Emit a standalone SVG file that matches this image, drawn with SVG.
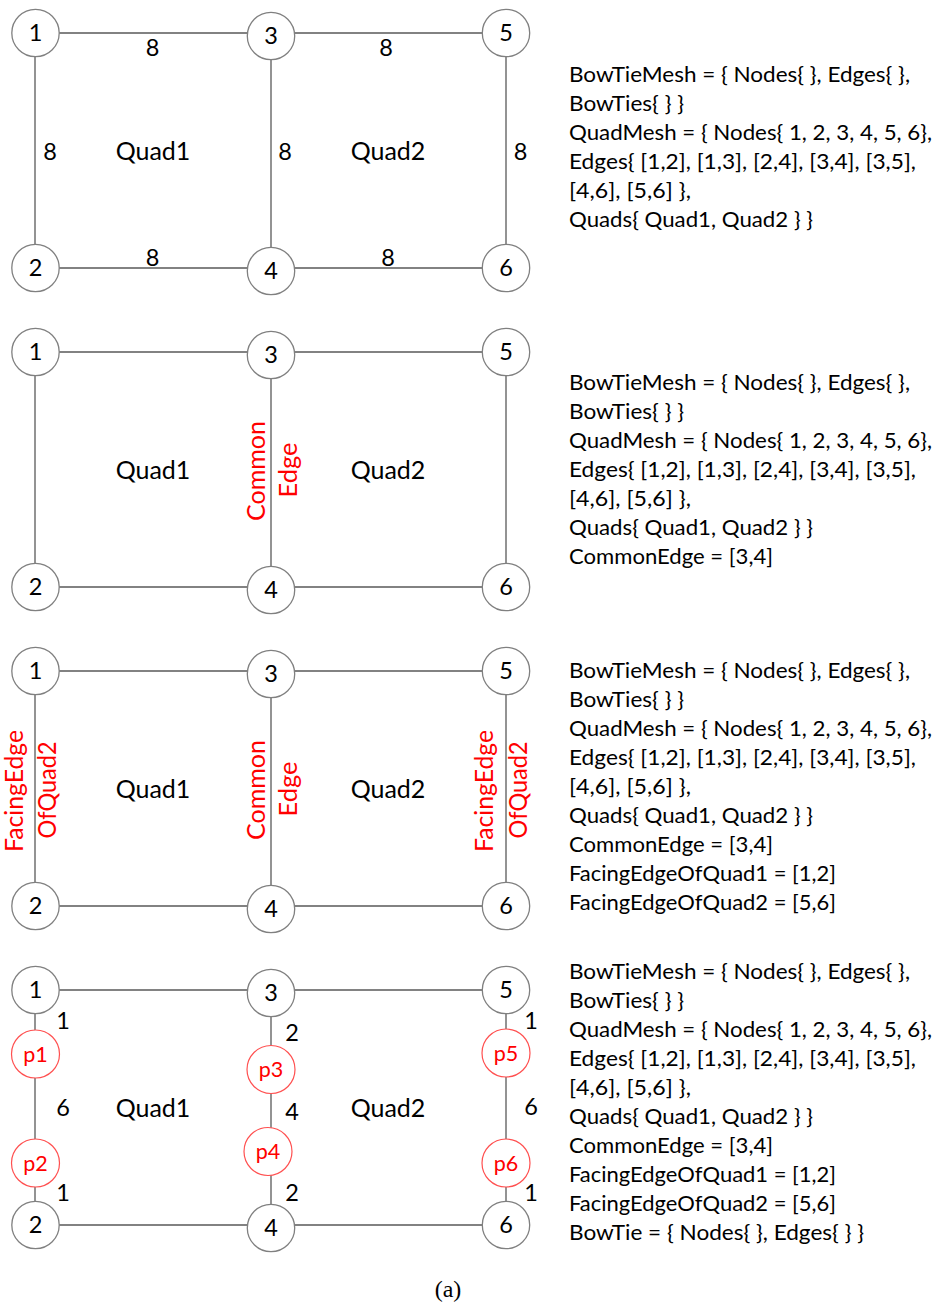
<svg xmlns="http://www.w3.org/2000/svg" width="938" height="1303" viewBox="0 0 938 1303">
<style>
.bg{fill:#ffffff}
.edge{stroke:#595959;stroke-width:1.3;fill:none}
.node{fill:#ffffff;stroke:#808080;stroke-width:1.3}
.pnode{fill:#ffffff;stroke:#ff5050;stroke-width:1.2}
.num{font-family:Lato,"Open Sans",sans-serif;font-size:23.5px;fill:#000;text-anchor:middle}
.pl{font-family:Lato,"Open Sans",sans-serif;font-size:21.5px;fill:#ff0000;text-anchor:middle}
.quad{font-family:Lato,"Open Sans",sans-serif;font-size:25px;fill:#000;text-anchor:middle}
.red{font-family:Lato,"Open Sans",sans-serif;font-size:25px;fill:#ff0000}
.desc{font-family:Lato,"Open Sans",sans-serif;font-size:21.5px;fill:#000}
.cap{font-family:"Liberation Serif",serif;font-size:24px;fill:#000;text-anchor:middle}
</style>
<rect class="bg" x="0" y="0" width="938" height="1303"/>

<!-- Panel 1 -->
<g id="panel1">
  <g id="panel1-connectors">
    <line class="edge" x1="35" y1="33" x2="506" y2="33"/>
    <line class="edge" x1="35" y1="268" x2="506" y2="268"/>
    <line class="edge" x1="35" y1="33" x2="35" y2="268"/>
    <line class="edge" x1="271" y1="36" x2="271" y2="271"/>
    <line class="edge" x1="506" y1="33" x2="506" y2="268"/>
    <text class="num" x="152.5" y="55.5">8</text>
    <text class="num" x="386" y="55.5">8</text>
    <text class="num" x="50" y="159.5">8</text>
    <text class="num" x="285" y="159.5">8</text>
    <text class="num" x="520.5" y="159.5">8</text>
    <text class="num" x="152.5" y="265.5">8</text>
    <text class="num" x="388" y="265.5">8</text>
  </g>
  <g id="panel1-n1"><circle class="node" cx="35.5" cy="33" r="23.7"/><text class="num" x="35.5" y="41.4">1</text></g>
  <g id="panel1-n3"><circle class="node" cx="271" cy="36" r="23.7"/><text class="num" x="271" y="44.4">3</text></g>
  <g id="panel1-n5"><circle class="node" cx="506" cy="33" r="23.7"/><text class="num" x="506" y="41.4">5</text></g>
  <g id="panel1-n2"><circle class="node" cx="35.5" cy="268" r="23.7"/><text class="num" x="35.5" y="276.4">2</text></g>
  <g id="panel1-n4"><circle class="node" cx="271" cy="271" r="23.7"/><text class="num" x="271" y="279.4">4</text></g>
  <g id="panel1-n6"><circle class="node" cx="506" cy="268" r="23.7"/><text class="num" x="506" y="276.4">6</text></g>
  <g id="panel1-quad1"><text class="quad" x="153" y="159.5">Quad1</text></g>
  <g id="panel1-quad2"><text class="quad" x="388" y="159.5">Quad2</text></g>
  <g id="panel1-text">
    <text class="desc" x="569" y="82" textLength="341" lengthAdjust="spacingAndGlyphs">BowTieMesh = { Nodes{ }, Edges{ },</text>
    <text class="desc" x="569" y="111" textLength="115" lengthAdjust="spacingAndGlyphs">BowTies{ } }</text>
    <text class="desc" x="569" y="140" textLength="363" lengthAdjust="spacingAndGlyphs">QuadMesh = { Nodes{ 1, 2, 3, 4, 5, 6},</text>
    <text class="desc" x="569" y="169" textLength="347" lengthAdjust="spacingAndGlyphs">Edges{ [1,2], [1,3], [2,4], [3,4], [3,5],</text>
    <text class="desc" x="569" y="198" textLength="122" lengthAdjust="spacingAndGlyphs">[4,6], [5,6] },</text>
    <text class="desc" x="569" y="227" textLength="244" lengthAdjust="spacingAndGlyphs">Quads{ Quad1, Quad2 } }</text>
  </g>
</g>

<!-- Panel 2 -->
<g id="panel2">
  <g id="panel2-connectors" transform="translate(0,319)">
    <line class="edge" x1="35" y1="33" x2="506" y2="33"/>
    <line class="edge" x1="35" y1="268" x2="506" y2="268"/>
    <line class="edge" x1="35" y1="33" x2="35" y2="268"/>
    <line class="edge" x1="271" y1="36" x2="271" y2="271"/>
    <line class="edge" x1="506" y1="33" x2="506" y2="268"/>
  </g>
  <g transform="translate(0,319)">
    <g id="panel2-n1"><circle class="node" cx="35.5" cy="33" r="23.7"/><text class="num" x="35.5" y="41.4">1</text></g>
    <g id="panel2-n3"><circle class="node" cx="271" cy="36" r="23.7"/><text class="num" x="271" y="44.4">3</text></g>
    <g id="panel2-n5"><circle class="node" cx="506" cy="33" r="23.7"/><text class="num" x="506" y="41.4">5</text></g>
    <g id="panel2-n2"><circle class="node" cx="35.5" cy="268" r="23.7"/><text class="num" x="35.5" y="276.4">2</text></g>
    <g id="panel2-n4"><circle class="node" cx="271" cy="271" r="23.7"/><text class="num" x="271" y="279.4">4</text></g>
    <g id="panel2-n6"><circle class="node" cx="506" cy="268" r="23.7"/><text class="num" x="506" y="276.4">6</text></g>
    <g id="panel2-quad1"><text class="quad" x="153" y="159.5">Quad1</text></g>
    <g id="panel2-quad2"><text class="quad" x="388" y="159.5">Quad2</text></g>
  </g>
  <g id="panel2-common">
    <text class="red" transform="translate(265,471) rotate(-90)" x="-50" y="0" textLength="100" lengthAdjust="spacingAndGlyphs">Common</text>
    <text class="red" transform="translate(297,470) rotate(-90)" x="-27.5" y="0" textLength="55" lengthAdjust="spacingAndGlyphs">Edge</text>
  </g>
  <g id="panel2-text">
    <text class="desc" x="569" y="390" textLength="341" lengthAdjust="spacingAndGlyphs">BowTieMesh = { Nodes{ }, Edges{ },</text>
    <text class="desc" x="569" y="419" textLength="115" lengthAdjust="spacingAndGlyphs">BowTies{ } }</text>
    <text class="desc" x="569" y="448" textLength="363" lengthAdjust="spacingAndGlyphs">QuadMesh = { Nodes{ 1, 2, 3, 4, 5, 6},</text>
    <text class="desc" x="569" y="477" textLength="347" lengthAdjust="spacingAndGlyphs">Edges{ [1,2], [1,3], [2,4], [3,4], [3,5],</text>
    <text class="desc" x="569" y="506" textLength="122" lengthAdjust="spacingAndGlyphs">[4,6], [5,6] },</text>
    <text class="desc" x="569" y="535" textLength="244" lengthAdjust="spacingAndGlyphs">Quads{ Quad1, Quad2 } }</text>
    <text class="desc" x="569" y="564" textLength="204" lengthAdjust="spacingAndGlyphs">CommonEdge = [3,4]</text>
  </g>
</g>

<!-- Panel 3 -->
<g id="panel3">
  <g id="panel3-connectors" transform="translate(0,638)">
    <line class="edge" x1="35" y1="33" x2="506" y2="33"/>
    <line class="edge" x1="35" y1="268" x2="506" y2="268"/>
    <line class="edge" x1="35" y1="33" x2="35" y2="268"/>
    <line class="edge" x1="271" y1="36" x2="271" y2="271"/>
    <line class="edge" x1="506" y1="33" x2="506" y2="268"/>
  </g>
  <g transform="translate(0,638)">
    <g id="panel3-n1"><circle class="node" cx="35.5" cy="33" r="23.7"/><text class="num" x="35.5" y="41.4">1</text></g>
    <g id="panel3-n3"><circle class="node" cx="271" cy="36" r="23.7"/><text class="num" x="271" y="44.4">3</text></g>
    <g id="panel3-n5"><circle class="node" cx="506" cy="33" r="23.7"/><text class="num" x="506" y="41.4">5</text></g>
    <g id="panel3-n2"><circle class="node" cx="35.5" cy="268" r="23.7"/><text class="num" x="35.5" y="276.4">2</text></g>
    <g id="panel3-n4"><circle class="node" cx="271" cy="271" r="23.7"/><text class="num" x="271" y="279.4">4</text></g>
    <g id="panel3-n6"><circle class="node" cx="506" cy="268" r="23.7"/><text class="num" x="506" y="276.4">6</text></g>
    <g id="panel3-quad1"><text class="quad" x="153" y="159.5">Quad1</text></g>
    <g id="panel3-quad2"><text class="quad" x="388" y="159.5">Quad2</text></g>
  </g>
  <g id="panel3-labels">
    <text class="red" transform="translate(23,791) rotate(-90)" x="-61" y="0" textLength="122" lengthAdjust="spacingAndGlyphs">FacingEdge</text>
    <text class="red" transform="translate(56,790) rotate(-90)" x="-48.5" y="0" textLength="97" lengthAdjust="spacingAndGlyphs">OfQuad2</text>
    <text class="red" transform="translate(265,790) rotate(-90)" x="-50" y="0" textLength="100" lengthAdjust="spacingAndGlyphs">Common</text>
    <text class="red" transform="translate(297,789) rotate(-90)" x="-27.5" y="0" textLength="55" lengthAdjust="spacingAndGlyphs">Edge</text>
    <text class="red" transform="translate(493,791) rotate(-90)" x="-61" y="0" textLength="122" lengthAdjust="spacingAndGlyphs">FacingEdge</text>
    <text class="red" transform="translate(527,790) rotate(-90)" x="-48.5" y="0" textLength="97" lengthAdjust="spacingAndGlyphs">OfQuad2</text>
  </g>
  <g id="panel3-text">
    <text class="desc" x="569" y="678" textLength="341" lengthAdjust="spacingAndGlyphs">BowTieMesh = { Nodes{ }, Edges{ },</text>
    <text class="desc" x="569" y="707" textLength="115" lengthAdjust="spacingAndGlyphs">BowTies{ } }</text>
    <text class="desc" x="569" y="736" textLength="363" lengthAdjust="spacingAndGlyphs">QuadMesh = { Nodes{ 1, 2, 3, 4, 5, 6},</text>
    <text class="desc" x="569" y="765" textLength="347" lengthAdjust="spacingAndGlyphs">Edges{ [1,2], [1,3], [2,4], [3,4], [3,5],</text>
    <text class="desc" x="569" y="794" textLength="122" lengthAdjust="spacingAndGlyphs">[4,6], [5,6] },</text>
    <text class="desc" x="569" y="823" textLength="244" lengthAdjust="spacingAndGlyphs">Quads{ Quad1, Quad2 } }</text>
    <text class="desc" x="569" y="852" textLength="204" lengthAdjust="spacingAndGlyphs">CommonEdge = [3,4]</text>
    <text class="desc" x="569" y="881" textLength="267" lengthAdjust="spacingAndGlyphs">FacingEdgeOfQuad1 = [1,2]</text>
    <text class="desc" x="569" y="910" textLength="267" lengthAdjust="spacingAndGlyphs">FacingEdgeOfQuad2 = [5,6]</text>
  </g>
</g>

<!-- Panel 4 -->
<g id="panel4">
  <g id="panel4-connectors" transform="translate(0,957)">
    <line class="edge" x1="35" y1="33" x2="506" y2="33"/>
    <line class="edge" x1="35" y1="268" x2="506" y2="268"/>
    <line class="edge" x1="35" y1="33" x2="35" y2="268"/>
    <line class="edge" x1="271" y1="36" x2="271" y2="271"/>
    <line class="edge" x1="506" y1="33" x2="506" y2="268"/>
    <text class="num" x="63" y="72.4">1</text>
    <text class="num" x="63" y="159.4">6</text>
    <text class="num" x="63" y="244.4">1</text>
    <text class="num" x="292" y="84.4">2</text>
    <text class="num" x="292" y="163.4">4</text>
    <text class="num" x="292" y="244.4">2</text>
    <text class="num" x="531" y="72.4">1</text>
    <text class="num" x="531" y="158.4">6</text>
    <text class="num" x="531" y="244.4">1</text>
  </g>
  <g transform="translate(0,957)">
    <g id="panel4-n1"><circle class="node" cx="35.5" cy="33" r="23.7"/><text class="num" x="35.5" y="41.4">1</text></g>
    <g id="panel4-n3"><circle class="node" cx="271" cy="36" r="23.7"/><text class="num" x="271" y="44.4">3</text></g>
    <g id="panel4-n5"><circle class="node" cx="506" cy="33" r="23.7"/><text class="num" x="506" y="41.4">5</text></g>
    <g id="panel4-n2"><circle class="node" cx="35.5" cy="268" r="23.7"/><text class="num" x="35.5" y="276.4">2</text></g>
    <g id="panel4-n4"><circle class="node" cx="271" cy="271" r="23.7"/><text class="num" x="271" y="279.4">4</text></g>
    <g id="panel4-n6"><circle class="node" cx="506" cy="268" r="23.7"/><text class="num" x="506" y="276.4">6</text></g>
    <g id="panel4-p1"><circle class="pnode" cx="35.5" cy="97" r="24"/><text class="pl" x="35.5" y="104.5">p1</text></g>
    <g id="panel4-p2"><circle class="pnode" cx="35.5" cy="206" r="24"/><text class="pl" x="35.5" y="213.5">p2</text></g>
    <g id="panel4-p3"><circle class="pnode" cx="271" cy="112.5" r="24"/><text class="pl" x="271" y="120">p3</text></g>
    <g id="panel4-p4"><circle class="pnode" cx="268" cy="194.5" r="24"/><text class="pl" x="268" y="202">p4</text></g>
    <g id="panel4-p5"><circle class="pnode" cx="506" cy="96" r="24"/><text class="pl" x="506" y="103.5">p5</text></g>
    <g id="panel4-p6"><circle class="pnode" cx="506" cy="206" r="24"/><text class="pl" x="506" y="213.5">p6</text></g>
    <g id="panel4-quad1"><text class="quad" x="153" y="159.5">Quad1</text></g>
    <g id="panel4-quad2"><text class="quad" x="388" y="159.5">Quad2</text></g>
  </g>
  <g id="panel4-text">
    <text class="desc" x="569" y="979" textLength="341" lengthAdjust="spacingAndGlyphs">BowTieMesh = { Nodes{ }, Edges{ },</text>
    <text class="desc" x="569" y="1008" textLength="115" lengthAdjust="spacingAndGlyphs">BowTies{ } }</text>
    <text class="desc" x="569" y="1037" textLength="363" lengthAdjust="spacingAndGlyphs">QuadMesh = { Nodes{ 1, 2, 3, 4, 5, 6},</text>
    <text class="desc" x="569" y="1066" textLength="347" lengthAdjust="spacingAndGlyphs">Edges{ [1,2], [1,3], [2,4], [3,4], [3,5],</text>
    <text class="desc" x="569" y="1095" textLength="122" lengthAdjust="spacingAndGlyphs">[4,6], [5,6] },</text>
    <text class="desc" x="569" y="1124" textLength="244" lengthAdjust="spacingAndGlyphs">Quads{ Quad1, Quad2 } }</text>
    <text class="desc" x="569" y="1153" textLength="204" lengthAdjust="spacingAndGlyphs">CommonEdge = [3,4]</text>
    <text class="desc" x="569" y="1182" textLength="267" lengthAdjust="spacingAndGlyphs">FacingEdgeOfQuad1 = [1,2]</text>
    <text class="desc" x="569" y="1211" textLength="267" lengthAdjust="spacingAndGlyphs">FacingEdgeOfQuad2 = [5,6]</text>
    <text class="desc" x="569" y="1240" textLength="295" lengthAdjust="spacingAndGlyphs">BowTie = { Nodes{ }, Edges{ } }</text>
  </g>
</g>

<g id="caption"><text class="cap" x="448" y="1297">(a)</text></g>
</svg>
